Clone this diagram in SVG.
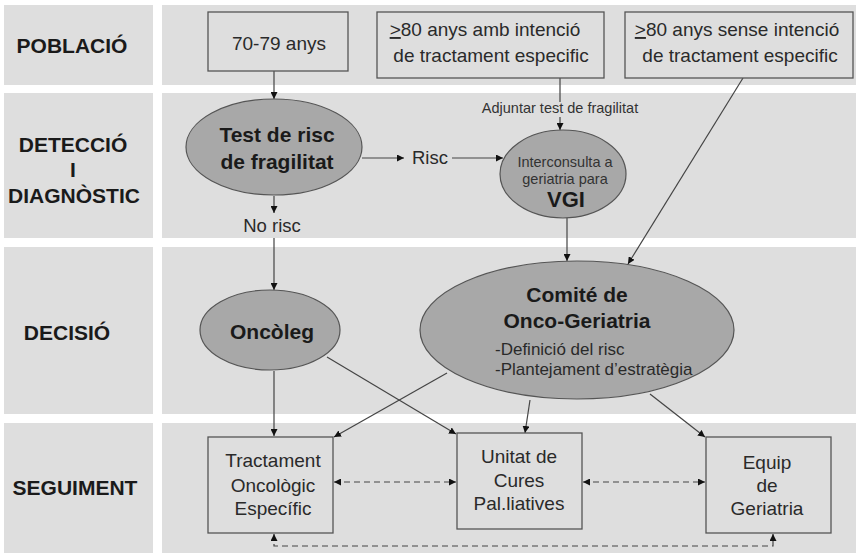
<svg xmlns="http://www.w3.org/2000/svg" width="856" height="556" viewBox="0 0 856 556">
<style>
.band{fill:#dedede}
.lab{font-family:"Liberation Sans",Arial,sans-serif;font-weight:bold;font-size:21px;fill:#1a1a1a;text-anchor:middle}
.box{fill:#dedede;stroke:#555;stroke-width:1.3}
.ell{fill:#a8a8a8;stroke:#555;stroke-width:1.2}
.t{font-family:"Liberation Sans",Arial,sans-serif;font-size:19px;fill:#2a2a2a;text-anchor:middle}
.tb{font-family:"Liberation Sans",Arial,sans-serif;font-size:21px;font-weight:bold;fill:#1a1a1a;text-anchor:middle}
.ts{font-family:"Liberation Sans",Arial,sans-serif;font-size:14.5px;fill:#333;text-anchor:middle}
.u{text-decoration:underline}
.c{fill:none;stroke:#444;stroke-width:1.2}
.d{fill:none;stroke:#444;stroke-width:1.2;stroke-dasharray:6 4}
</style>
<defs>
<marker id="ah" viewBox="0 0 10 10" refX="10" refY="5" markerWidth="7" markerHeight="7" markerUnits="userSpaceOnUse" orient="auto-start-reverse">
<path d="M0 0 L10 5 L0 10 Z" fill="#111"/>
</marker>
</defs>
<rect width="856" height="556" fill="#fff"/>
<g id="bands">
<rect class="band" x="4" y="5" width="149" height="80"/>
<rect class="band" x="162" y="5" width="694" height="80"/>
<rect class="band" x="4" y="93" width="149" height="145"/>
<rect class="band" x="162" y="93" width="694" height="145"/>
<rect class="band" x="4" y="247" width="149" height="167"/>
<rect class="band" x="162" y="247" width="694" height="167"/>
<rect class="band" x="4" y="423" width="149" height="130"/>
<rect class="band" x="162" y="423" width="694" height="130"/>
</g>
<g id="row-labels">
<text class="lab" x="72" y="53">POBLACIÓ</text>
<text class="lab" x="73" y="152">DETECCIÓ</text>
<text class="lab" x="73" y="177">I</text>
<text class="lab" x="74" y="203">DIAGNÒSTIC</text>
<text class="lab" x="67" y="340">DECISIÓ</text>
<text class="lab" x="75" y="495">SEGUIMENT</text>
</g>
<g id="connectors">
<path class="c" d="M274 71 V99" marker-end="url(#ah)"/>
<path class="c" d="M362 158 H404" marker-end="url(#ah)"/>
<path class="c" d="M452 158 H503" marker-end="url(#ah)"/>
<path class="c" d="M560 78 V102 M560 117 V130" marker-end="url(#ah)"/>
<path class="c" d="M743 78 L628 264" marker-end="url(#ah)"/>
<path class="c" d="M274 196 V213" marker-end="url(#ah)"/>
<path class="c" d="M274 238 V290" marker-end="url(#ah)"/>
<path class="c" d="M567 218 V261" marker-end="url(#ah)"/>
<path class="c" d="M274 371 V436" marker-end="url(#ah)"/>
<path class="c" d="M327 357 L456 434" marker-end="url(#ah)"/>
<path class="c" d="M447 373 L334 437" marker-end="url(#ah)"/>
<path class="c" d="M530 400 L525 433" marker-end="url(#ah)"/>
<path class="c" d="M650 394 L705 437" marker-end="url(#ah)"/>
<path class="d" d="M334 482 H456" marker-start="url(#ah)" marker-end="url(#ah)"/>
<path class="d" d="M583 482 H705" marker-start="url(#ah)" marker-end="url(#ah)"/>
<path class="d" d="M274 534 V546 H773 V534" marker-start="url(#ah)" marker-end="url(#ah)"/>
</g>
<g id="n-70-79">
<rect class="box" x="208" y="12" width="140" height="59"/>
<text class="t" x="279" y="50">70-79 anys</text>
</g>
<g id="n-80-amb">
<rect class="box" x="377" y="12" width="227" height="66"/>
<text class="t" x="485" y="36"><tspan class="u">&gt;</tspan>80 anys amb intenció</text>
<text class="t" x="491" y="62">de tractament especific</text>
</g>
<g id="n-80-sense">
<rect class="box" x="625" y="12" width="228" height="66"/>
<text class="t" x="737" y="36"><tspan class="u">&gt;</tspan>80 anys sense intenció</text>
<text class="t" x="740" y="62">de tractament especific</text>
</g>
<g id="n-test">
<ellipse class="ell" cx="274" cy="147" rx="88" ry="48"/>
<text class="tb" x="277" y="142">Test de risc</text>
<text class="tb" x="277" y="169">de fragilitat</text>
</g>
<g id="l-risc">
<text class="t" x="430" y="164" style="font-size:18.5px">Risc</text>
</g>
<g id="l-norisc">
<text class="t" x="272" y="232" style="font-size:18.5px">No risc</text>
</g>
<g id="l-adjuntar">
<text class="ts" x="560" y="113">Adjuntar test de fragilitat</text>
</g>
<g id="n-vgi">
<ellipse class="ell" cx="563" cy="174" rx="63" ry="44"/>
<text class="ts" x="565" y="167">Interconsulta a</text>
<text class="ts" x="565" y="184">geriatria para</text>
<text class="tb" x="566" y="207" style="font-size:22px">VGI</text>
</g>
<g id="n-oncoleg">
<ellipse class="ell" cx="270" cy="330" rx="70" ry="40"/>
<text class="tb" x="272" y="339">Oncòleg</text>
</g>
<g id="n-comite">
<ellipse class="ell" cx="577" cy="330" rx="157" ry="69"/>
<text class="tb" x="577" y="302">Comité de</text>
<text class="tb" x="577" y="328">Onco-Geriatria</text>
<text class="t" x="495" y="355" style="font-size:17px;text-anchor:start">-Definició del risc</text>
<text class="t" x="495" y="375" style="font-size:17px;text-anchor:start">-Plantejament d’estratègia</text>
</g>
<g id="n-tractament">
<rect class="box" x="208" y="437" width="125" height="96"/>
<text class="t" x="273" y="467">Tractament</text>
<text class="t" x="273" y="492">Oncològic</text>
<text class="t" x="273" y="515">Específic</text>
</g>
<g id="n-unitat">
<rect class="box" x="457" y="433" width="125" height="96"/>
<text class="t" x="519" y="463">Unitat de</text>
<text class="t" x="519" y="487">Cures</text>
<text class="t" x="519" y="510">Pal.liatives</text>
</g>
<g id="n-equip">
<rect class="box" x="706" y="437" width="125" height="96"/>
<text class="t" x="767" y="469">Equip</text>
<text class="t" x="767" y="492">de</text>
<text class="t" x="767" y="515">Geriatria</text>
</g>
</svg>
